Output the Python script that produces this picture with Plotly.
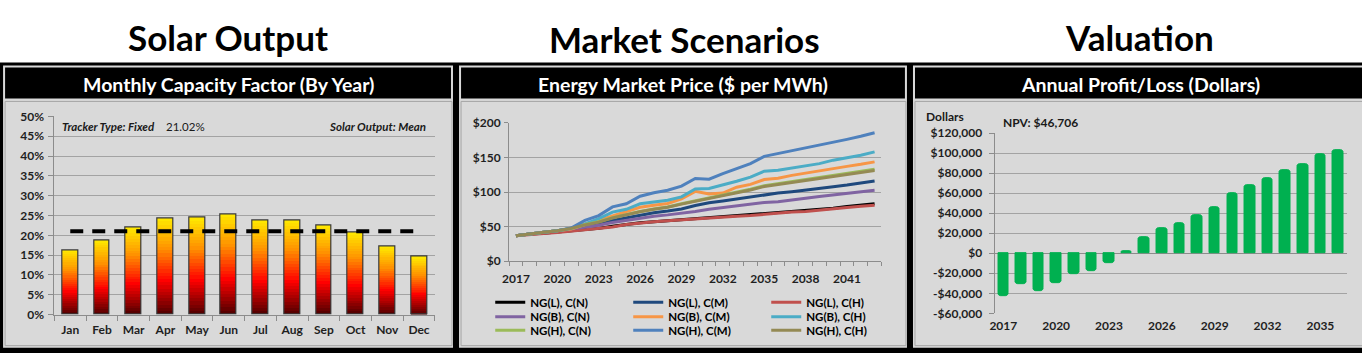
import plotly.graph_objects as go

W, H = 1362, 353
# the page body keeps an 8px margin around the figure and the page is then fitted back
# into W x H; positions below are given in window pixels and mapped through that fit
PAGE_MARGIN = 8
SX = (W + 2 * PAGE_MARGIN) / W
SY = (H + 2 * PAGE_MARGIN) / H
FONT = "Lato"

# ---------------- data ----------------
months = ["Jan", "Feb", "Mar", "Apr", "May", "Jun", "Jul", "Aug", "Sep", "Oct", "Nov", "Dec"]
capacity_factor = [16.3, 18.7, 21.9, 24.2, 24.4, 25.4, 23.8, 23.8, 22.6, 20.7, 17.2, 14.6]
annual_avg = 21.02
tracker_type = "Fixed"
solar_output = "Mean"

market_years = list(range(2017, 2044))
market_tick_years = [2017, 2020, 2023, 2026, 2029, 2032, 2035, 2038, 2041]
ng_l_c_n = [37, 39.5, 40.5, 42, 44, 45.5, 47.5, 50.5, 53.5, 55.5, 57, 58.5, 60, 61, 62, 63.5, 65, 66.5, 68.5, 70, 71.5, 73, 74.5, 76.5, 79, 81, 83]
ng_l_c_m = [37, 40, 42, 44, 47, 50, 54, 59, 63, 66.5, 70, 72.5, 75.5, 80.5, 84.5, 87, 90, 93, 96.5, 98.5, 100.5, 102.5, 105, 107.5, 110, 113, 116]
ng_l_c_h = [37, 39, 40, 41.5, 43.5, 45, 46.5, 49.5, 53, 55.5, 57, 58.5, 60, 61, 62, 63.5, 65, 66, 68, 69.5, 71, 72, 73.5, 75.5, 77.5, 79.5, 81]
ng_b_c_n = [37, 40, 42, 44, 46.5, 49.5, 52, 56, 59, 62.5, 65, 67, 69, 72, 75, 77.5, 80, 82, 85, 86, 89, 91, 93.5, 96, 98.5, 101, 102.5]
ng_b_c_m = [37, 40, 42, 44, 46.5, 53, 59, 66, 72, 78, 81, 83.5, 90, 101, 97, 98.5, 107, 111, 118, 120, 124, 127.5, 130, 134, 137, 140, 143.5]
ng_b_c_h = [37, 40, 42, 44, 47.5, 54, 61.5, 71, 75, 83, 85.5, 88, 93, 104.5, 105, 110, 115.5, 121.5, 130, 131.5, 135, 138.5, 141, 146, 149.5, 153, 158]
ng_h_c_n = [37, 40, 42, 44, 47.5, 53, 57, 63, 68, 72, 75.5, 78.5, 83, 87, 92, 96, 100, 104, 109, 112, 115, 118, 120.5, 123, 126, 129.5, 133]
ng_h_c_m = [37, 40, 42, 44, 48, 59, 66, 78.5, 83, 94, 99, 102.5, 108.5, 119.5, 118.5, 126.5, 134, 141, 151.5, 155.5, 159.5, 164, 167, 171.5, 176, 180.5, 185.5]
ng_h_c_h = [37, 40, 42, 44, 47.5, 52.5, 56.5, 62.5, 67.5, 71.5, 75, 78, 82.5, 86.5, 91.5, 95.5, 99.5, 103, 108, 111, 114, 117, 119.5, 122, 125, 128, 131]

series_names = ["NG(L), C(N)", "NG(L), C(M)", "NG(L), C(H)",
                "NG(B), C(N)", "NG(B), C(M)", "NG(B), C(H)",
                "NG(H), C(N)", "NG(H), C(M)", "NG(H), C(H)"]
series_values = [ng_l_c_n, ng_l_c_m, ng_l_c_h, ng_b_c_n, ng_b_c_m, ng_b_c_h, ng_h_c_n, ng_h_c_m, ng_h_c_h]
series_colors = ["#000000", "#1F497D", "#C0504D", "#8064A2", "#F79646", "#4BACC6", "#9BBB59", "#4F81BD", "#948A54"]

profit_years = list(range(2017, 2037))
profit_tick_years = [2017, 2020, 2023, 2026, 2029, 2032, 2035]
annual_profit = [-42500, -30500, -37500, -29500, -21000, -18000, -10000, 2300, 15800, 25000,
                 30500, 38500, 45800, 60300, 67700, 75300, 82700, 88700, 98700, 103000]
npv = 46706
profit_tickvals = [-60000, -40000, -20000, 0, 20000, 40000, 60000, 80000, 100000, 120000]
profit_ticktext = ["-$60,000", "-$40,000", "-$20,000", "$0", "$20,000", "$40,000",
                   "$60,000", "$80,000", "$100,000", "$120,000"]

# ---------------- helpers (window pixel -> paper fraction) ----------------
def px(x):
    return (x * SX - PAGE_MARGIN) / W

def py(y):
    return 1 - (y * SY - PAGE_MARGIN) / H

def lerp_color(t):
    stops = [(0.0, (80, 0, 0)), (0.35, (255, 0, 0)), (0.68, (255, 145, 0)), (1.0, (255, 235, 0))]
    for (t0, c0), (t1, c1) in zip(stops[:-1], stops[1:]):
        if t <= t1:
            f = (t - t0) / (t1 - t0)
            c = [round(a + (b - a) * f) for a, b in zip(c0, c1)]
            return "rgb(%d,%d,%d)" % tuple(c)
    return "rgb(%d,%d,%d)" % stops[-1][1]

fig = go.Figure()

# ---------------- chart 1: capacity factor bars with gradient ----------------
N_SEG = 30
for i in range(N_SEG):
    fig.add_trace(go.Bar(
        x=months, y=[v / N_SEG for v in capacity_factor],
        base=[v * i / N_SEG for v in capacity_factor],
        width=0.5, marker=dict(color=lerp_color((i + 0.5) / N_SEG), line=dict(width=0)),
        showlegend=False, hoverinfo="skip", xaxis="x", yaxis="y"))
fig.add_trace(go.Bar(
    x=months, y=capacity_factor, width=0.5,
    marker=dict(color="rgba(0,0,0,0)", line=dict(color="#3a3a3a", width=1.2)),
    showlegend=False, xaxis="x", yaxis="y"))
fig.add_trace(go.Scatter(
    x=months, y=[annual_avg] * len(months), mode="lines",
    line=dict(color="black", width=4, dash="13px,9px"),
    showlegend=False, xaxis="x", yaxis="y"))

# ---------------- chart 2: market price lines ----------------
legend_ids = ["legend", "legend2", "legend3"]
for k, (name, vals, col) in enumerate(zip(series_names, series_values, series_colors)):
    fig.add_trace(go.Scatter(
        x=market_years, y=vals, mode="lines", name=name,
        line=dict(color=col, width=3),
        legend=legend_ids[k // 3], xaxis="x2", yaxis="y2"))

# ---------------- chart 3: annual profit bars ----------------
fig.add_trace(go.Bar(
    x=profit_years, y=annual_profit, width=0.6,
    marker=dict(color="#00B050", line=dict(color="#00B050", width=1), cornerradius=3),
    showlegend=False, xaxis="x3", yaxis="y3"))

# ---------------- shapes (frames) ----------------
shapes = []
def rect(x0, y0, x1, y1, fill, line_color=None, line_width=0):
    shapes.append(dict(type="rect", xref="paper", yref="paper", layer="below",
                       x0=px(x0), x1=px(x1), y0=py(y1), y1=py(y0),
                       fillcolor=fill,
                       line=dict(color=line_color or fill, width=line_width)))

rect(0, 62, W + 20, H + 20, "black")
panels = [(4, 451), (457, 902), (908, 1359)]
for x0, x1 in panels:
    rect(x0, 65, x1, 347, "#d9d9d9")
    rect(x0 + 2, 67, x1 - 2, 98, "black")
    rect(x0 + 2, 101, x1 - 1, 345, "#d9d9d9", "#a6a6a6", 1)

# ---------------- annotations ----------------
ann = []
def text(x, y, s, size, color="black", weight="bold", style="normal", xanchor="center"):
    ann.append(dict(xref="paper", yref="paper", x=px(x), y=py(y), text=s, showarrow=False,
                    xanchor=xanchor, yanchor="middle",
                    font=dict(family=FONT, size=size, color=color, weight=weight, style=style)))

text(227, 37, "Solar Output", 35)
text(681, 39, "Market Scenarios", 35)
text(1133, 37, "Valuation", 35)
text(228, 84, "Monthly Capacity Factor (By Year)", 19.5, "white")
text(680, 84, "Energy Market Price ($ per MWh)", 19.5, "white")
text(1134, 84, "Annual Profit/Loss (Dollars)", 19.5, "white")
text(61, 126, "Tracker Type: " + tracker_type, 11.5, "#1a1a1a", style="italic", xanchor="left")
text(164, 126, f"{annual_avg:.2f}%", 11.5, "#1a1a1a", weight="normal", xanchor="left")
text(426, 126, "Solar Output: " + solar_output, 11.5, "#1a1a1a", style="italic", xanchor="right")
text(919, 116, "Dollars", 12, "#1a1a1a", xanchor="left")
text(995, 122, f"NPV: ${npv:,}", 12, "#1a1a1a", xanchor="left")

tickfont = dict(family=FONT, size=12, color="#1f1f1f", weight="bold")
AX = "#8c8c8c"
GRID = "#a3a3a3"

legend_rows = [301.7, 316, 329.5]
legend_common = dict(orientation="h", xanchor="left", yanchor="middle",
                     entrywidth=93, entrywidthmode="pixels", itemwidth=30,
                     bgcolor="rgba(0,0,0,0)",
                     font=dict(family=FONT, size=11.5, color="black", weight="bold"))

fig.update_layout(
    width=W, height=H, margin=dict(l=0, r=0, t=0, b=0),
    paper_bgcolor="white", plot_bgcolor="rgba(0,0,0,0)",
    barmode="overlay", bargap=0,
    shapes=shapes, annotations=ann,
    font=dict(family=FONT),
    xaxis=dict(domain=[px(55), px(433)], anchor="y", type="category",
               tickson="boundaries", ticks="outside", ticklen=5, tickcolor=AX,
               showline=True, linecolor=AX, showgrid=False, tickfont=tickfont,
               tickangle=0, ticklabelstandoff=4, fixedrange=True),
    yaxis=dict(domain=[py(314), py(116)], anchor="x", range=[0, 50], dtick=5,
               ticksuffix="%", showgrid=True, gridcolor=GRID, gridwidth=1,
               showline=True, linecolor=AX, ticks="outside", ticklen=5, tickcolor=AX,
               zeroline=False, tickfont=tickfont, ticklabelstandoff=2),
    xaxis2=dict(domain=[px(506.7), px(876.7)], anchor="y2", range=[2016.5, 2043.5],
                tickmode="array", tickvals=market_tick_years, ticks="", tickangle=0,
                minor=dict(ticks="outside", ticklen=4, tick0=2016.5, dtick=1, tickcolor=AX, showgrid=False),
                showline=True, linecolor=AX, showgrid=False, tickfont=tickfont,
                ticklabelstandoff=6, zeroline=False),
    yaxis2=dict(domain=[py(260.7), py(122.3)], anchor="x2", range=[0, 200], dtick=50,
                tickprefix="$", showgrid=True, gridcolor=GRID, showline=True, linecolor=AX,
                ticks="outside", ticklen=4, tickcolor=AX, zeroline=False, tickfont=tickfont,
                ticklabelstandoff=1),
    xaxis3=dict(domain=[px(989), px(1339)], anchor="y3", range=[2016.5, 2036.5],
                tickmode="array", tickvals=profit_tick_years, ticks="", tickangle=0,
                showline=False, showgrid=False, tickfont=tickfont, zeroline=False,
                ticklabelstandoff=4),
    xaxis4=dict(overlaying="x3", anchor="free", position=py(252.7), range=[2016.5, 2036.5],
                showticklabels=False, ticks="", showgrid=False, zeroline=False, showline=False,
                minor=dict(ticks="outside", ticklen=4, tick0=2016.5, dtick=1, tickcolor=AX, showgrid=False)),
    yaxis3=dict(domain=[py(312.7), py(132.7)], anchor="x3", range=[-60000, 120000],
                tickmode="array", tickvals=profit_tickvals, ticktext=profit_ticktext,
                showgrid=True, gridcolor=GRID, showline=True, linecolor=AX,
                ticks="outside", ticklen=5, tickcolor=AX, zeroline=True, zerolinecolor=AX,
                zerolinewidth=1, tickfont=tickfont, ticklabelstandoff=4),
    legend=dict(x=px(488), y=py(legend_rows[0]), **legend_common),
    legend2=dict(x=px(488), y=py(legend_rows[1]), **legend_common),
    legend3=dict(x=px(488), y=py(legend_rows[2]), **legend_common),
)

fig.write_html("out.html")
